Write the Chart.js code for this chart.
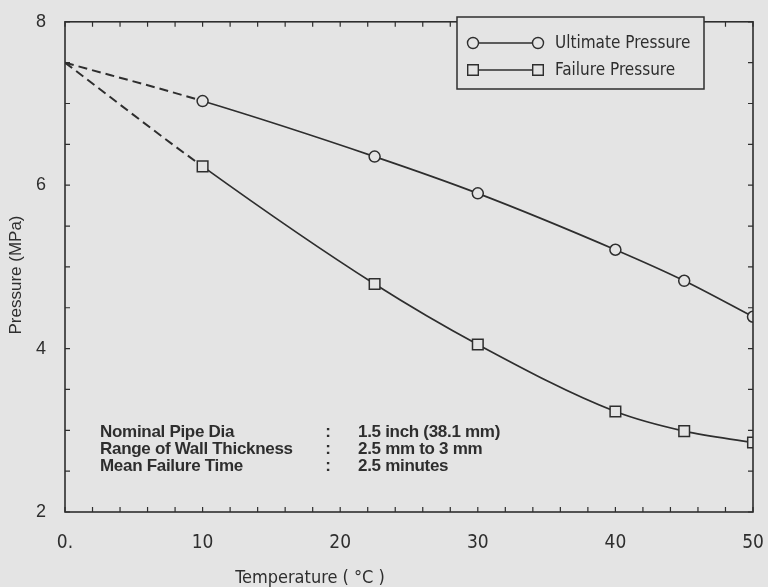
<!DOCTYPE html>
<html>
<head>
<meta charset="utf-8">
<script src="https://cdn.jsdelivr.net/npm/chart.js@4"></script>
<style>
  html, body { margin: 0; padding: 0; background: #e4e4e4; }
  #wrap { width: 768px; height: 587px; }
</style>
</head>
<body>
<div id="wrap"><canvas id="pressureChart" width="768" height="587"></canvas></div>
<script>
// values
const temperatures = [0, 10, 22.5, 30, 40, 45, 50];
const ultimatePressure = [7.5, 7.03, 6.35, 5.9, 5.21, 4.83, 4.39];
const failurePressure = [7.5, 6.23, 4.79, 4.05, 3.23, 2.99, 2.85];

const seriesNames = ['Ultimate Pressure', 'Failure Pressure'];
const xTickValues = [0, 10, 20, 30, 40, 50];
const xTickText = ['0.', '10', '20', '30', '40', '50'];
const yTickValues = [2, 4, 6, 8];

const noteLabels = ['Nominal Pipe Dia', 'Range of Wall Thickness', 'Mean Failure Time'];
const noteValues = ['1.5 inch (38.1 mm)', '2.5 mm to 3 mm', '2.5 minutes'];

const INK = '#2e2e2e';
const PAPER = '#e4e4e4';
const NARROW = '"Liberation Sans Narrow", "DejaVu Sans Condensed", "Liberation Sans", sans-serif';
const SANS = '"Liberation Sans", Arial, sans-serif';

function toPoints(ys) {
  return temperatures.map((t, i) => ({ x: t, y: ys[i] }));
}

// first segment (0 -> 10) is the dashed extrapolation
const dashFirst = {
  borderDash: ctx => ctx.p0DataIndex === 0 ? [9, 5] : undefined,
  borderWidth: ctx => ctx.p0DataIndex === 0 ? 2 : undefined
};

function drawMarker(ctx, style, x, y) {
  ctx.beginPath();
  if (style === 'circle') {
    ctx.arc(x, y, 5.5, 0, Math.PI * 2);
  } else {
    ctx.rect(x - 5.3, y - 5.3, 10.6, 10.6);
  }
  ctx.fillStyle = PAPER;
  ctx.fill();
  ctx.stroke();
}

const decorPlugin = {
  id: 'decor',
  beforeDraw(chart) {
    const ctx = chart.ctx;
    ctx.save();
    ctx.fillStyle = PAPER;
    ctx.fillRect(0, 0, chart.width, chart.height);
    ctx.restore();
  },
  afterDraw(chart) {
    const ctx = chart.ctx;
    const area = chart.chartArea;
    const xs = chart.scales.x;
    const ys = chart.scales.y;
    ctx.save();
    ctx.strokeStyle = INK;
    ctx.lineWidth = 1.6;

    // frame
    ctx.strokeRect(area.left, area.top, area.right - area.left, area.bottom - area.top);

    // inward minor ticks on all four sides
    ctx.lineWidth = 1.2;
    ctx.beginPath();
    for (let v = xs.min; v <= xs.max; v += 2) {
      const px = xs.getPixelForValue(v);
      ctx.moveTo(px, area.bottom); ctx.lineTo(px, area.bottom - 5);
      ctx.moveTo(px, area.top); ctx.lineTo(px, area.top + 5);
    }
    for (let v = ys.min; v <= ys.max; v += 0.5) {
      const py = ys.getPixelForValue(v);
      ctx.moveTo(area.left, py); ctx.lineTo(area.left + 5, py);
      ctx.moveTo(area.right, py); ctx.lineTo(area.right - 5, py);
    }
    ctx.stroke();

    // legend box
    ctx.lineWidth = 1.5;
    ctx.fillStyle = PAPER;
    ctx.fillRect(457, 17, 247, 72);
    ctx.strokeRect(457, 17, 247, 72);
    const styles = ['circle', 'rect'];
    [43, 70].forEach((ly, i) => {
      ctx.lineWidth = 1.4;
      ctx.beginPath();
      ctx.moveTo(473, ly); ctx.lineTo(538, ly);
      ctx.stroke();
      drawMarker(ctx, styles[i], 473, ly);
      drawMarker(ctx, styles[i], 538, ly);
      ctx.fillStyle = INK;
      ctx.font = '17px ' + NARROW;
      ctx.textAlign = 'left';
      ctx.textBaseline = 'middle';
      ctx.fillText(chart.data.datasets[i].label, 555, ly + 1);
    });

    // specimen notes
    ctx.fillStyle = INK;
    ctx.font = 'bold 17px ' + SANS;
    ctx.letterSpacing = '-0.3px';
    ctx.textBaseline = 'middle';
    noteLabels.forEach((txt, i) => {
      const ny = 432 + i * 17;
      ctx.textAlign = 'left';
      ctx.fillText(txt, 100, ny);
      ctx.textAlign = 'center';
      ctx.fillText(':', 328, ny);
      ctx.textAlign = 'left';
      ctx.fillText(noteValues[i], 358, ny);
    });
    ctx.letterSpacing = '0px';

    // axis titles
    ctx.font = '18px ' + NARROW;
    ctx.textAlign = 'center';
    ctx.fillText('Temperature ( \u00B0C )', 310, 578);

    ctx.translate(16, 275);
    ctx.rotate(-Math.PI / 2);
    ctx.font = '17px ' + SANS;
    ctx.fillText('Pressure (MPa)', 0, 0);
    ctx.restore();
  }
};

new Chart(document.getElementById('pressureChart'), {
  type: 'line',
  data: {
    datasets: [
      {
        label: seriesNames[0],
        data: toPoints(ultimatePressure),
        borderColor: INK,
        borderWidth: 1.7,
        backgroundColor: PAPER,
        pointStyle: 'circle',
        pointRadius: ctx => ctx.dataIndex === 0 ? 0 : 5.5,
        pointBorderWidth: 1.5,
        pointBorderColor: INK,
        pointBackgroundColor: PAPER,
        cubicInterpolationMode: 'monotone',
        segment: dashFirst,
        clip: 0
      },
      {
        label: seriesNames[1],
        data: toPoints(failurePressure),
        borderColor: INK,
        borderWidth: 1.7,
        backgroundColor: PAPER,
        pointStyle: 'rect',
        pointRadius: ctx => ctx.dataIndex === 0 ? 0 : 7.5,
        pointBorderWidth: 1.5,
        pointBorderColor: INK,
        pointBackgroundColor: PAPER,
        cubicInterpolationMode: 'monotone',
        segment: dashFirst,
        clip: 0
      }
    ]
  },
  options: {
    responsive: false,
    animation: false,
    layout: { padding: { top: 18, right: 15, left: 0, bottom: 0 } },
    plugins: {
      legend: { display: false },
      tooltip: { enabled: false }
    },
    scales: {
      x: {
        type: 'linear',
        min: 0,
        max: 50,
        afterFit: s => {
          s.height = 75;
          // let the "50" label hang over the right margin, like the original
          s.paddingLeft = 0;
          s.paddingRight = 0;
        },
        afterBuildTicks: s => { s.ticks = xTickValues.map(v => ({ value: v })); },
        grid: { display: false },
        border: { display: false },
        ticks: {
          padding: 12,
          color: INK,
          font: { size: 19, family: NARROW },
          maxRotation: 0,
          callback: (val) => xTickText[xTickValues.indexOf(val)]
        }
      },
      y: {
        min: 2,
        max: 8,
        afterFit: s => { s.width = 65; },
        afterBuildTicks: s => { s.ticks = yTickValues.map(v => ({ value: v })); },
        grid: { display: false },
        border: { display: false },
        ticks: {
          padding: 11,
          color: INK,
          font: { size: 18, family: SANS }
        }
      }
    }
  },
  plugins: [decorPlugin]
});
</script>
</body>
</html>
